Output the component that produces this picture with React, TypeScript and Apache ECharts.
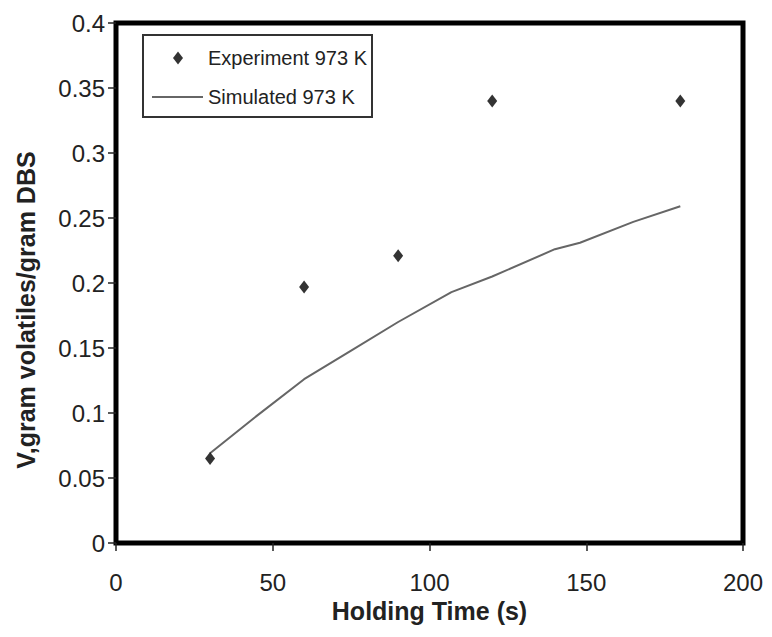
import React, { useEffect, useRef } from "react";
import * as echarts from "echarts";

const expX = [30, 60, 90, 120, 180];
const expY = [0.065, 0.197, 0.221, 0.34, 0.34];
const simX = [30, 45, 60, 75, 90, 107, 120, 140, 148, 165, 180];
const simY = [0.069, 0.098, 0.126, 0.148, 0.17, 0.193, 0.205, 0.226, 0.231, 0.247, 0.259];
const xTicks = { min: 0, max: 200, interval: 50 };
const yTicks = { min: 0, max: 0.4, interval: 0.05 };

const FONT = "'Liberation Sans', Arial, sans-serif";

export default function App() {
  const ref = useRef<HTMLDivElement>(null);
  useEffect(() => {
    if (!ref.current) return;
    const chart = echarts.init(ref.current, null, { renderer: "svg" });
    const tickStyle = { show: true, length: 8, lineStyle: { color: "#222", width: 1.5 } };
    chart.setOption({
      animation: false,
      backgroundColor: "#fff",
      grid: {
        left: 116,
        right: 29,
        top: 23,
        bottom: 94,
        show: true,
        borderColor: "#000",
        borderWidth: 5,
        backgroundColor: "#fff",
      },
      xAxis: {
        type: "value",
        ...xTicks,
        axisLine: { show: false },
        axisTick: tickStyle,
        splitLine: { show: false },
        axisLabel: { fontSize: 24, color: "#222", margin: 27, fontFamily: FONT },
        name: "Holding Time (s)",
        nameLocation: "middle",
        nameGap: 55,
        nameTextStyle: { fontSize: 25, fontWeight: "bold", color: "#222", fontFamily: FONT },
      },
      yAxis: {
        type: "value",
        ...yTicks,
        axisLine: { show: false },
        axisTick: tickStyle,
        splitLine: { show: false },
        axisLabel: { fontSize: 24, color: "#222", margin: 11, fontFamily: FONT },
        name: "V,gram volatiles/gram DBS",
        nameLocation: "middle",
        nameGap: 78,
        nameTextStyle: {
          fontSize: 25,
          fontWeight: "bold",
          color: "#222",
          fontFamily: FONT,
          padding: [0, 54, 0, 0],
        },
      },
      legend: [
        {
          data: [{ name: "Experiment 973 K", icon: "diamond" }],
          left: 173,
          top: 48,
          padding: 0,
          itemWidth: 10,
          itemHeight: 13,
          textStyle: { fontSize: 20, color: "#222", fontFamily: FONT, padding: [0, 0, 0, 20] },
        },
        {
          data: [{ name: "Simulated 973 K", icon: "rect" }],
          left: 152,
          top: 87,
          padding: 0,
          itemWidth: 51,
          itemHeight: 2,
          itemStyle: { color: "#666" },
          textStyle: { fontSize: 20, color: "#222", fontFamily: FONT },
        },
      ],
      graphic: [
        {
          type: "rect",
          shape: { x: 143, y: 35, width: 229, height: 82 },
          style: { fill: "#fff", stroke: "#333", lineWidth: 2 },
          z: 1,
        },
      ],
      series: [
        {
          name: "Experiment 973 K",
          type: "scatter",
          symbol: "diamond",
          symbolSize: [10, 13],
          itemStyle: { color: "#000" },
          data: expX.map((x, i) => [x, expY[i]]),
          z: 3,
        },
        {
          name: "Simulated 973 K",
          type: "line",
          symbol: "none",
          lineStyle: { color: "#666", width: 2 },
          itemStyle: { color: "#666" },
          data: simX.map((x, i) => [x, simY[i]]),
          z: 2,
        },
      ],
    });
    return () => chart.dispose();
  }, []);
  return (
    <div
      ref={ref}
      style={{ position: "fixed", left: 0, top: 0, width: 772, height: 637 }}
    />
  );
}
